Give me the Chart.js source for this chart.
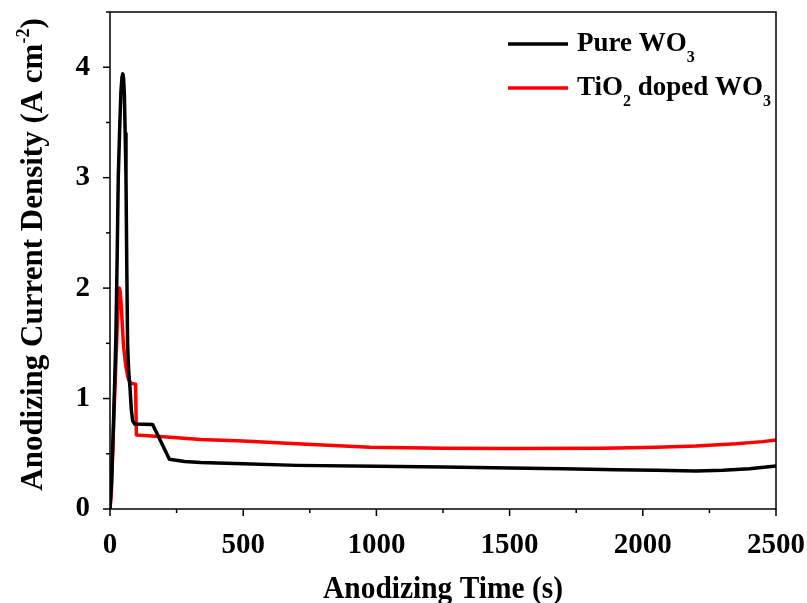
<!DOCTYPE html>
<html>
<head>
<meta charset="utf-8">
<script src="https://cdn.jsdelivr.net/npm/chart.js@4/dist/chart.umd.min.js"></script>
<style>
  html, body { margin: 0; padding: 0; background: #fff; }
  #wrap { width: 807px; height: 603px; }
</style>
</head>
<body>
<div id="wrap"><canvas id="chart" width="807" height="603"></canvas></div>
<script>
/* ---------- data ---------- */
const pureTime    = [0, 6, 12, 17, 22, 27, 31, 37, 41, 45, 48, 51, 54, 57, 60, 63, 66, 70, 75, 80, 85, 92, 160, 223, 280, 340, 500, 700, 1000, 1250, 1500, 1700, 1900, 2050, 2200, 2300, 2400, 2500];
const pureDensity = [0, 0.25, 0.7, 1.1, 1.55, 2.3, 3.0, 3.5, 3.78, 3.91, 3.94, 3.9, 3.75, 3.4, 3.0, 2.2, 1.5, 1.25, 1.1, 0.9, 0.8, 0.77, 0.765, 0.45, 0.43, 0.42, 0.41, 0.395, 0.387, 0.38, 0.372, 0.365, 0.355, 0.35, 0.345, 0.35, 0.365, 0.39];

const dopedTime    = [0, 5, 10, 17, 25, 29, 32, 35, 38, 42, 46, 50, 55, 59, 65, 70, 78, 96, 99, 200, 340, 500, 700, 976, 1250, 1500, 1850, 2050, 2200, 2350, 2450, 2500];
const dopedDensity = [0, 0.15, 0.5, 1.0, 1.5, 1.78, 1.93, 2.0, 1.97, 1.85, 1.68, 1.5, 1.38, 1.3, 1.22, 1.17, 1.14, 1.13, 0.67, 0.655, 0.63, 0.615, 0.59, 0.56, 0.55, 0.547, 0.55, 0.56, 0.57, 0.59, 0.61, 0.625];

const xTicks = [0, 500, 1000, 1500, 2000, 2500];
const yTicks = [0, 1, 2, 3, 4];

const FONT = '"Liberation Serif", "Times New Roman", serif';

function toPoints(xs, ys) {
  return xs.map((x, i) => ({ x: x, y: ys[i] }));
}

/* ---------- rich text (sub / superscripts) ---------- */
// segment: [text, kind] kind: 0 normal, 1 subscript, 2 superscript
function smallSize(size) { return Math.round(size * 0.58); }
function richWidth(ctx, segs, size) {
  let w = 0;
  segs.forEach(([t, k]) => {
    ctx.font = 'bold ' + (k ? smallSize(size) : size) + 'px ' + FONT;
    w += ctx.measureText(t).width;
  });
  return w;
}
function drawRich(ctx, segs, x, y, size) {
  ctx.textBaseline = 'alphabetic';
  ctx.textAlign = 'left';
  segs.forEach(([t, k]) => {
    const s = k ? smallSize(size) : size;
    ctx.font = 'bold ' + s + 'px ' + FONT;
    const dy = k === 1 ? size * 0.42 : k === 2 ? -size * 0.42 : 0;
    ctx.fillText(t, x, y + dy);
    x += ctx.measureText(t).width;
  });
}

const legendItems = [
  { color: '#000000', segs: [['Pure WO', 0], ['3', 1]] },
  { color: '#ff0000', segs: [['TiO', 0], ['2', 1], [' doped WO', 0], ['3', 1]] }
];
const yTitle = [['Anodizing Current Density (A cm', 0], ['-2', 2], [')', 0]];
const xTitle = [['Anodizing Time (s)', 0]];

/* ---------- frame, ticks, titles, legend ---------- */
const decorations = {
  id: 'decorations',
  afterDatasetsDraw(chart) {
    const ctx = chart.ctx;
    const a = chart.chartArea;
    const xs = chart.scales.x, ys = chart.scales.y;
    ctx.save();
    ctx.strokeStyle = '#000';
    ctx.lineWidth = 1.5;
    ctx.strokeRect(a.left, a.top, a.right - a.left, a.bottom - a.top);

    // bottom ticks: major every 500, minor every 250
    for (let v = 0; v <= 2500; v += 250) {
      const px = xs.getPixelForValue(v);
      const len = v % 500 === 0 ? 7 : 4;
      ctx.beginPath();
      ctx.moveTo(px, a.bottom);
      ctx.lineTo(px, a.bottom + len);
      ctx.stroke();
    }
    // left ticks: major every 1, minor every 0.5
    for (let v = 0; v <= 4.5; v += 0.5) {
      const py = ys.getPixelForValue(v);
      const len = v % 1 === 0 ? 7 : 4;
      ctx.beginPath();
      ctx.moveTo(a.left, py);
      ctx.lineTo(a.left - len, py);
      ctx.stroke();
    }

    ctx.fillStyle = '#000';
    // x title (slightly condensed like the reference)
    const xw = richWidth(ctx, xTitle, 32) * 0.92;
    ctx.save();
    ctx.translate((a.left + a.right) / 2 - xw / 2, 598);
    ctx.scale(0.92, 1);
    drawRich(ctx, xTitle, 0, 0, 32);
    ctx.restore();
    // y title
    const yw = richWidth(ctx, yTitle, 31);
    ctx.save();
    ctx.translate(42, (a.top + a.bottom) / 2 - 6);
    ctx.rotate(-Math.PI / 2);
    drawRich(ctx, yTitle, -yw / 2, 0, 31);
    ctx.restore();

    // legend
    legendItems.forEach((it, i) => {
      const ly = 44 + i * 44;
      ctx.strokeStyle = it.color;
      ctx.lineWidth = 3.5;
      ctx.beginPath();
      ctx.moveTo(508, ly);
      ctx.lineTo(568, ly);
      ctx.stroke();
      ctx.fillStyle = '#000';
      drawRich(ctx, it.segs, 577, ly + 7, 27);
    });
    ctx.restore();
  }
};

new Chart(document.getElementById('chart'), {
  type: 'scatter',
  data: {
    datasets: [
      {
        label: 'Pure WO3',
        data: toPoints(pureTime, pureDensity),
        showLine: true,
        borderColor: '#000000',
        borderWidth: 3.5,
        borderJoinStyle: 'round',
        borderCapStyle: 'round',
        pointRadius: 0,
        tension: 0
      },
      {
        label: 'TiO2 doped WO3',
        data: toPoints(dopedTime, dopedDensity),
        showLine: true,
        borderColor: '#ff0000',
        borderWidth: 3.5,
        borderJoinStyle: 'round',
        borderCapStyle: 'round',
        pointRadius: 0,
        tension: 0
      }
    ]
  },
  options: {
    responsive: false,
    animation: false,
    layout: { padding: { top: 12, right: 31, left: 0, bottom: 0 } },
    plugins: {
      legend: { display: false },
      tooltip: { enabled: false }
    },
    scales: {
      x: {
        type: 'linear',
        min: 0,
        max: 2500,
        grid: { display: false },
        border: { display: false },
        afterBuildTicks: s => { s.ticks = xTicks.map(v => ({ value: v })); },
        afterFit: s => {
          s.height = 94;
          s.paddingLeft = 0;
          s.paddingRight = 0;
        },
        ticks: {
          padding: 11,
          color: '#000',
          callback: v => String(v),
          font: { family: FONT, size: 29, weight: 'bold' }
        }
      },
      y: {
        type: 'linear',
        min: 0,
        max: 4.5,
        grid: { display: false },
        border: { display: false },
        afterBuildTicks: s => { s.ticks = yTicks.map(v => ({ value: v })); },
        afterFit: s => {
          s.width = 110;
          s.paddingTop = 0;
          s.paddingBottom = 0;
        },
        ticks: {
          padding: 12,
          color: '#000',
          callback: v => String(v),
          font: { family: FONT, size: 29, weight: 'bold' }
        }
      }
    }
  },
  plugins: [decorations]
});
</script>
</body>
</html>
